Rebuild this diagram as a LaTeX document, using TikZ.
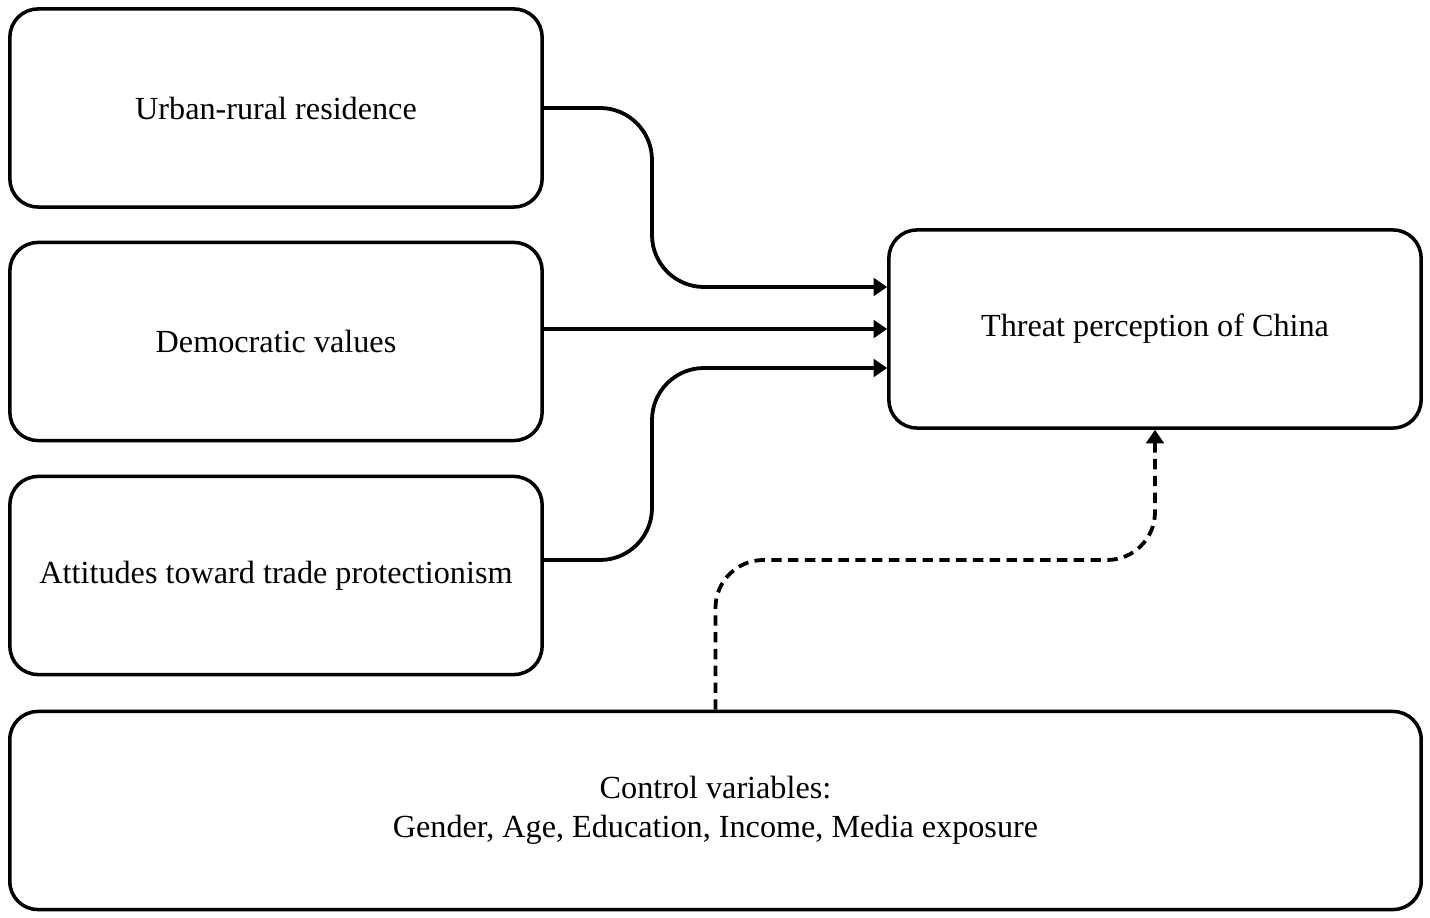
\documentclass[tikz,border=0pt]{standalone}
\usepackage{fontspec}
\setmainfont{Liberation Serif}
\usetikzlibrary{arrows.meta}
\tikzset{
    box/.style={draw, line width=2.5pt, rounded corners=0.7cm, align=center,
        minimum width=13.3cm, minimum height=4.95cm, inner sep=0pt,
        font=\fontsize{22.9}{27.7}\selectfont},
    arr/.style={line width=2.7pt, -{Triangle[length=0.34cm,width=0.44cm]}},
    ctrl/.style={arr, dash pattern=on 0.26cm off 0.16cm},
}

\begin{document}
\begin{tikzpicture}[x=0.025cm, y=-0.025cm]
    \useasboundingbox (0,0) rectangle (1430,918);
    \node[box] (urban) at (276,108) {Urban-rural residence};
    \node[box] (democ) at (276,341.5) {Democratic values};
    \node[box] (trade) at (276,575.5) {Attitudes toward trade protectionism};
    \node[box] (threat) at (1155,329) {Threat perception of China};
    \node[box, minimum width=35.275cm] (control) at (715.5,810.5) {Control variables:\\Gender, Age, Education, Income, Media exposure};
    % paths into the outcome box
    \draw[arr, rounded corners=1.3cm] (urban.east) -- (652,108) -- (652,287) -- (threat.west |- 0,287);
    \draw[arr] (democ.east |- threat.west) -- (threat.west);
    \draw[arr, rounded corners=1.3cm] (trade.east |- 0,560) -- (652,560) -- (652,368) -- (threat.west |- 0,368);
	%\draw[arr] (control.north) -- (threat.south);
    \draw[ctrl, rounded corners=1.2cm] (control.north) -- (control.north |- 0,560) -- (threat.south |- 0,560) -- (threat.south);
\end{tikzpicture}
\end{document}
